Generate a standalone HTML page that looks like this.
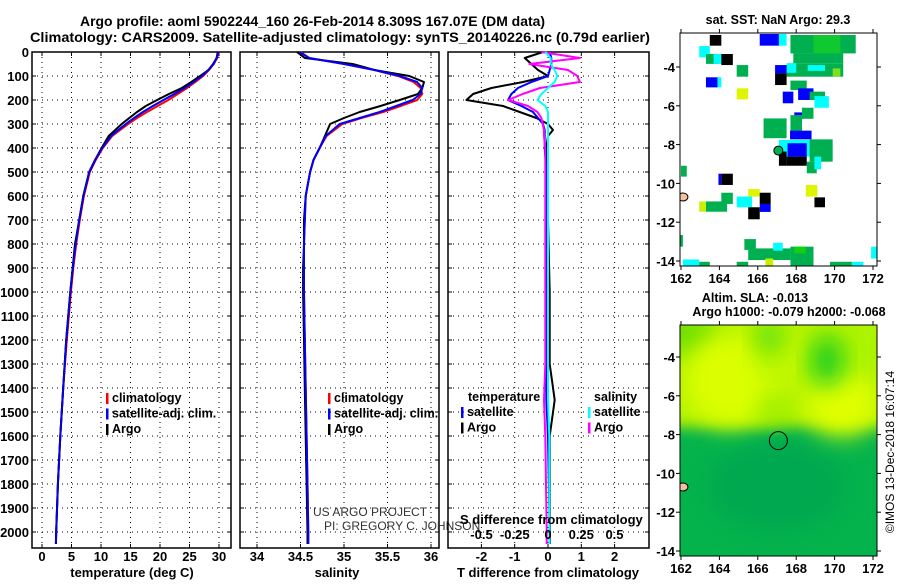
<!DOCTYPE html>
<html><head><meta charset="utf-8">
<style>
html,body{margin:0;padding:0;background:#fff;}
svg text{font-family:"Liberation Sans",sans-serif;font-weight:bold;}
</style></head>
<body>
<svg id="fig" width="900" height="580" viewBox="0 0 900 580" xmlns="http://www.w3.org/2000/svg">
<defs>
<filter id="blur" x="-50%" y="-50%" width="200%" height="200%"><feGaussianBlur stdDeviation="12"/></filter>
<filter id="blur2" x="-50%" y="-50%" width="200%" height="200%"><feGaussianBlur stdDeviation="7"/></filter>
<clipPath id="clipAlt"><rect x="680" y="325" width="197" height="231"/></clipPath>
<clipPath id="clipSst"><rect x="680" y="33" width="197" height="233"/></clipPath>
</defs>
<text x="80" y="26" font-size="14" textLength="465" lengthAdjust="spacingAndGlyphs">Argo profile: aoml 5902244_160 26-Feb-2014 8.309S 167.07E (DM data)</text>
<text x="30" y="42" font-size="14" textLength="620" lengthAdjust="spacingAndGlyphs">Climatology: CARS2009. Satellite-adjusted climatology: synTS_20140226.nc (0.79d earlier)</text>
<g id="g"></g>
</svg>
<script>
// ---- profile data ----
const depths = [0,25,50,75,100,125,150,175,200,225,250,275,300,350,400,450,500,600,700,800,900,1000,1200,1400,1600,1800,2000,2050];
const tempArgo = [29.8,29.6,29.0,28.2,26.8,25.3,23.7,21.5,19.5,17.6,16.1,14.8,13.5,11.3,10.1,9.0,8.0,7.0,6.3,5.6,5.2,4.8,4.1,3.6,3.1,2.7,2.4,2.35];
const tempClim = [29.9,29.7,29.1,28.3,27.3,26.0,24.6,23.0,21.4,19.6,17.8,16.1,14.6,11.9,10.3,9.1,8.1,7.1,6.4,5.8,5.3,4.9,4.2,3.6,3.1,2.7,2.4,2.35];
const tempSat = [29.9,29.6,29.1,28.2,27.1,25.7,24.2,22.4,20.6,18.8,17.1,15.6,14.2,11.7,10.2,9.0,8.0,7.0,6.3,5.7,5.2,4.8,4.1,3.6,3.1,2.7,2.4,2.35];
const salArgo = [34.46,34.55,35.1,35.35,35.75,35.92,35.9,35.85,35.64,35.42,35.18,35.0,34.84,34.78,34.72,34.65,34.61,34.56,34.54,34.54,34.53,34.53,34.54,34.55,34.56,34.57,34.58,34.58];
const salClim = [34.5,34.6,35.0,35.35,35.62,35.8,35.88,35.9,35.84,35.65,35.45,35.2,34.98,34.8,34.72,34.65,34.61,34.56,34.55,34.54,34.54,34.54,34.55,34.56,34.57,34.58,34.59,34.59];
const salSat = [34.49,34.6,35.0,35.35,35.64,35.84,35.9,35.88,35.79,35.6,35.41,35.18,34.95,34.79,34.72,34.65,34.61,34.56,34.55,34.54,34.54,34.54,34.55,34.56,34.57,34.58,34.59,34.59];
const diffDepths = [0,25,50,75,100,125,150,175,200,225,250,275,300,325,350,400,500,700,1000,1300,1450,1600,2000,2050];
const dTArgo = [-0.15,-0.7,-0.5,-0.3,0,-0.75,-1.7,-2.25,-2.45,-1.35,-0.85,-0.35,0,0.15,0,-0.05,-0.05,0,0.05,0.05,0.2,0.05,0.05,0.05];
const dTSat = [0.05,0.1,0.1,0.05,0,-0.5,-0.9,-1.1,-1.2,-0.8,-0.45,-0.3,-0.15,-0.1,-0.1,-0.1,-0.05,-0.05,-0.05,-0.05,-0.05,0,0.05,0.05];
const dSArgo = [-0.05,0.24,-0.14,0.15,0.22,0.24,-0.06,-0.19,-0.3,-0.15,-0.08,-0.05,-0.04,-0.03,-0.03,-0.02,-0.02,-0.02,-0.02,-0.02,-0.03,-0.02,-0.01,-0.01];
const dSSat = [-0.02,0.02,0.02,0.05,0.07,0.05,0,-0.05,-0.08,-0.02,0,0,0,0,0,0,0,0,0,0,0,0.01,0.01,0.01];
const depthTicks = [0,100,200,300,400,500,600,700,800,900,1000,1100,1200,1300,1400,1500,1600,1700,1800,1900,2000];
const tempTicks = [0,5,10,15,20,25,30];
const salTicks = [34,34.5,35,35.5,36];
const salTickLabels = ["34","34.5","35","35.5","36"];
const dTTicks = [-2,-1,0,1,2];
const dSTicks = [-0.5,-0.25,0,0.25,0.5];
const dSTickLabels = ["-0.5","-0.25","0","0.25","0.5"];
// ---- map data (lon0, lat0, lon1, lat1, color) ----
const sstCells = [
[163.5,-2.35,164.1,-2.9,"#000"],[162.95,-2.92,163.5,-3.5,"#00ffff"],[163.3,-3.33,163.95,-3.84,"#00b050"],
[163.7,-3.33,164.1,-3.84,"#00ffff"],[164.1,-3.33,164.7,-3.9,"#000"],[164.9,-3.9,165.5,-4.5,"#00b050"],
[163.3,-4.53,163.9,-5.05,"#0000ff"],[163.9,-4.53,164.1,-5.05,"#00ffff"],[164.9,-5.1,165.5,-5.67,"#dff500"],
[166.1,-2.3,167.1,-2.9,"#0000ff"],[167.1,-2.3,167.5,-2.9,"#00ffff"],[167.7,-2.35,171.1,-3.3,"#00b050"],
[168.9,-2.35,170.3,-3.3,"#10c830"],[167.85,-3.3,170.45,-3.81,"#00b050"],[167.5,-3.81,170.45,-4.5,"#00b050"],
[167.5,-3.81,168.0,-4.3,"#00ffff"],[168.6,-3.9,169.5,-4.2,"#00ffff"],[169.9,-4.07,170.3,-4.5,"#80e020"],
[166.9,-3.9,167.5,-4.33,"#0000ff"],[166.9,-4.33,167.5,-4.93,"#000"],[167.7,-4.7,168.55,-5.19,"#00b050"],
[168.1,-5.1,168.9,-5.7,"#0000ff"],[167.3,-5.27,167.85,-5.87,"#0000ff"],[168.7,-5.27,169.5,-5.7,"#00b050"],
[168.95,-5.5,169.7,-6.1,"#00ffff"],[168.3,-6.1,168.9,-6.67,"#00b050"],[167.9,-6.34,168.3,-6.9,"#0000ff"],
[166.3,-6.65,167.5,-7.67,"#00b050"],[167.7,-6.48,168.3,-7.5,"#00b050"],[167.68,-7.28,168.8,-7.73,"#0000ff"],
[167.1,-7.76,169.15,-8.62,"#00ffff"],[168.7,-7.73,169.9,-8.88,"#00b050"],[167.55,-7.93,168.55,-8.62,"#0000ff"],
[167.1,-8.36,167.5,-9.09,"#000"],[167.5,-8.62,168.55,-9.09,"#000"],[168.55,-8.88,169.07,-9.48,"#00b050"],
[168.95,-8.62,169.3,-9.27,"#00ffff"],[162.0,-9.09,162.3,-9.65,"#00b050"],[163.95,-9.5,164.1,-10.08,"#0000ff"],
[164.1,-9.5,164.7,-10.08,"#000"],[165.5,-10.29,166.1,-10.68,"#dff500"],[166.1,-10.48,166.67,-11.06,"#000"],
[164.9,-10.68,165.7,-11.23,"#00ffff"],[166.1,-11.06,166.67,-11.47,"#0000ff"],[165.5,-11.23,166.1,-11.85,"#000"],
[164.1,-10.48,164.7,-11.06,"#00b050"],[163.3,-10.93,164.4,-11.46,"#00b050"],[162.95,-10.93,163.3,-11.46,"#c8f000"],
[168.5,-10.08,169.1,-10.68,"#dff500"],[168.95,-10.72,169.5,-11.23,"#000"],[161.9,-12.66,162.1,-13.26,"#00b050"],
[165.3,-12.87,165.9,-13.43,"#00b050"],[165.5,-13.35,167.7,-13.95,"#00b050"],[166.8,-13.06,167.3,-13.47,"#00ffff"],
[167.7,-13.26,168.9,-14.3,"#00b050"],[167.9,-13.26,168.5,-13.6,"#10d010"],[162.1,-13.92,162.95,-14.26,"#00ffff"],
[162.95,-14.04,163.5,-14.26,"#00b050"],[164.9,-14.04,165.5,-14.26,"#00b050"],[169.76,-14.04,170.9,-14.26,"#00b050"],
[170.9,-14.04,171.5,-14.26,"#00ffff"],[171.9,-13.26,172.2,-13.87,"#00ffff"],[166.4,-13.87,166.8,-14.26,"#c8f000"]
];
const altBlobs = [
[162.3,-2.8,1.6,1.2,"#70e000"],[164.6,-5.2,2.4,2.4,"#dcff00"],[167.2,-4.2,1.4,1.6,"#c0f800"],
[170.4,-6.4,1.9,1.7,"#e0ff00"],[171.6,-3.5,0.9,1.4,"#a8f400"],[169.6,-4.2,0.8,1.3,"#10cc20"],
[166.6,-3.0,0.7,0.8,"#50dc10"],[166.8,-6.8,0.8,0.6,"#90ec00"]
];
const argoLon = 167.07, argoLat = -8.309;
const lonTicks = [162,164,166,168,170,172];
const latTicks = [-4,-6,-8,-10,-12,-14];

// ---- scales ----
const yD = d => 52 + d*0.24;
const xT = t => 42 + t*5.9;
const xS = s => 257 + (s-34)*87;
const xDT = v => 548 + v*33.3;
const xDS = v => 548 + v*133;
const mxL = lon => 681 + (lon-162)*19.2;
const my1 = lat => 67 + (-4-lat)*19.4;
const my2 = lat => 357 + (-4-lat)*19.4;

const NS = "http://www.w3.org/2000/svg";
const G = document.getElementById('g');
function mk(tag, attrs, parent){const e=document.createElementNS(NS,tag);for(const k in attrs)e.setAttribute(k,attrs[k]);(parent||G).appendChild(e);return e;}
function txt(s,x,y,size,anchor,parent){const e=mk('text',{x:x,y:y,'font-size':size,'text-anchor':anchor||'start'},parent);e.textContent=s;return e;}

function panel(name,x0,x1,xticks,xf,labels){
  const g=mk('g',{});
  
  
  depthTicks.forEach(d=>{
    mk('line',{x1:x0,x2:x1,y1:yD(d),y2:yD(d),stroke:'#000','stroke-dasharray':'1,4','stroke-width':1},g);
    mk('line',{x1:x0,x2:x0+4,y1:yD(d),y2:yD(d),stroke:'#000'},g);
    mk('line',{x1:x1-4,x2:x1,y1:yD(d),y2:yD(d),stroke:'#000'},g);
  });
  xticks.forEach((t,i)=>{
    const x=xf(t);
    mk('line',{x1:x,x2:x,y1:52,y2:548,stroke:'#000','stroke-dasharray':'1,4'},g);
    mk('line',{x1:x,x2:x,y1:548,y2:544,stroke:'#000'},g);
    mk('line',{x1:x,x2:x,y1:52,y2:56,stroke:'#000'},g);
    if(labels){const l=txt(labels[i],x,561,13,'middle',g);
      
      }
  });
  mk('rect',{x:x0,y:52,width:x1-x0,height:496,fill:'none',stroke:'#000','stroke-width':1.5},g);
  return g;
}
function line(name,xs,ds,xf,color,w){
  const pts=xs.map((v,i)=>xf(v).toFixed(1)+','+yD(ds[i]).toFixed(1)).join(' ');
  const p=mk('polyline',{points:pts,fill:'none',stroke:color,'stroke-width':w||2,'stroke-linejoin':'round'});
  
  
}
function legend(items,x,y){
  items.forEach((it,i)=>{
    mk('rect',{x:x,y:y+i*15.5-9,width:2.5,height:11,fill:it[1]});
    const t=txt(it[0],x+6,y+i*15.5,12.5,'start');
    
    
  });
}

// depth labels
depthTicks.forEach(d=>{const t=txt(String(d),29,yD(d)+5,13,'end');
  
  });

// panel 1 temperature
panel('temperature-panel',32,231,tempTicks,xT,tempTicks.map(String));
line('temp-clim-line',tempClim,depths,xT,'#ff0000');
line('temp-sat-line',tempSat,depths,xT,'#0000ff');
line('temp-argo-line',tempArgo,depths,xT,'#000');
line('temp-sat-line-top',tempSat,depths,xT,'#0000ff',1.6);
legend([['climatology','#f00'],['satellite-adj. clim.','#00f'],['Argo','#000']],106,402);
let at=txt('temperature (deg C)',132,577,13,'middle');


// panel 2 salinity
panel('salinity-panel',240,439,salTicks,xS,salTickLabels);
line('sal-clim-line',salClim,depths,xS,'#ff0000');
line('sal-argo-line',salArgo,depths,xS,'#000');
line('sal-sat-line',salSat,depths,xS,'#0000ff');
legend([['climatology','#f00'],['satellite-adj. clim.','#00f'],['Argo','#000']],328,402);
at=txt('salinity',337,577,13,'middle');

let cr=mk('text',{x:313,y:516,'font-size':12,fill:'#333',style:'font-weight:normal'});cr.textContent='US ARGO PROJECT';

cr=mk('text',{x:324,y:530,'font-size':12,fill:'#333',style:'font-weight:normal'});cr.textContent='PI: GREGORY C. JOHNSON';


// panel 3 differences
panel('difference-panel',448,649,dTTicks,xDT,dTTicks.map(String));
line('dT-argo-line',dTArgo,diffDepths,xDT,'#000');
line('dT-sat-line',dTSat,diffDepths,xDT,'#0000ff');
line('dS-argo-line',dSArgo,diffDepths,xDS,'#ff00ff');
line('dS-sat-line',dSSat,diffDepths,xDS,'#00ffff');
txt('temperature',468,401,12.5,'start');
legend([['satellite','#00f'],['Argo','#000']],461,416);
txt('salinity',594,401,12.5,'start');
legend([['satellite','#0ff'],['Argo','#f0f']],588,416);
txt('S difference from climatology',460,524,13,'start');
dSTicks.forEach((v,i)=>{const t=txt(dSTickLabels[i],xDS(v),539,13,'middle');
  });
txt('T difference from climatology',548,577,13,'middle');

// ---- map axes helper ----
function mapAxes(name,top,bottom,my){
  const g=mk('g',{});
  
  
  mk('rect',{x:680,y:top,width:197,height:bottom-top,fill:'none',stroke:'#000','stroke-width':1},g);
  lonTicks.forEach(l=>{const x=mxL(l);
    mk('line',{x1:x,x2:x,y1:bottom,y2:bottom+4,stroke:'#000'},g);
    mk('line',{x1:x,x2:x,y1:top,y2:top-4,stroke:'#000'},g);
    txt(String(l),x,bottom+17,13,'middle',g);});
  latTicks.forEach(l=>{const y=my(l);
    mk('line',{x1:676,x2:680,y1:y,y2:y,stroke:'#000'},g);
    mk('line',{x1:877,x2:881,y1:y,y2:y,stroke:'#000'},g);
    txt(String(l),675,y+5,13,'end',g);});
}

// ---- SST map ----
const sg=mk('g',{'clip-path':'url(#clipSst)'});


mk('rect',{x:680,y:33,width:197,height:233,fill:'#fff'},sg);
sstCells.forEach(c=>{const r=mk('rect',{x:mxL(c[0]),y:my1(c[1]),width:mxL(c[2])-mxL(c[0]),height:my1(c[3])-my1(c[1]),fill:c[4]},sg);
  });
mk('ellipse',{cx:mxL(162.1),cy:my1(-10.7),rx:5,ry:4,fill:'#f5c09a',stroke:'#000'},sg);
let c1=mk('circle',{cx:mxL(argoLon),cy:my1(argoLat),r:4.5,fill:'#00b050',stroke:'#000','stroke-width':1});

mapAxes('sst-map-axes',33,266,my1);
txt('sat. SST: NaN Argo: 29.3',778,24,12.5,'middle');

// ---- Altimetry map ----
const ag=mk('g',{'clip-path':'url(#clipAlt)'});


mk('rect',{x:680,y:325,width:197,height:231,fill:'#04b34c'},ag);
mk('rect',{x:660,y:300,width:240,height:my2(-7.6)-300,fill:'#b4f200',filter:'url(#blur2)'},ag);
mk('ellipse',{cx:mxL(167),cy:my2(-10.7),rx:70,ry:45,fill:'#00a850',filter:'url(#blur)'},ag);
altBlobs.forEach(b=>{const e=mk('ellipse',{cx:mxL(b[0]),cy:my2(b[1]),rx:b[2]*19.2,ry:b[3]*19.4,fill:b[4],filter:'url(#blur)'},ag);
  });
mk('ellipse',{cx:mxL(162.1),cy:my2(-10.7),rx:5,ry:4,fill:'#f5c09a',stroke:'#000'},ag);
let c2=mk('circle',{cx:mxL(argoLon),cy:my2(argoLat),r:9,fill:'none',stroke:'#000','stroke-width':1});

mapAxes('altimetry-map-axes',325,556,my2);
txt('Altim. SLA: -0.013',755,302,12.5,'middle');
txt('Argo h1000: -0.079 h2000: -0.068',789,316,12.5,'middle');
const im=mk('text',{x:0,y:0,'font-size':12,'text-anchor':'middle',transform:'translate(894,452) rotate(-90)',style:'font-weight:normal'});
im.textContent='©IMOS 13-Dec-2018 16:07:14';

</script>
</body></html>
